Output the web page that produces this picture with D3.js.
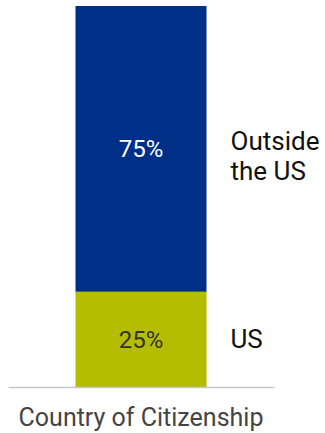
<!DOCTYPE html>
<html>
<head>
<meta charset="utf-8">
<script src="https://cdn.jsdelivr.net/npm/d3@7"></script>
<style>
  body { margin: 0; background: #fff; overflow: hidden; }
  text { font-family: Roboto, "Noto Sans", sans-serif; }
</style>
</head>
<body>
<script>
// data
var categories = ["Country of Citizenship"];
var segments = ["US", "Outside the US"];
var values = [0.25, 0.75];
var segLabels = [["US"], ["Outside", "the US"]];
var colors = ["#b5bd00", "#002f87"];
var valueColors = ["#333333", "#ffffff"];

var width = 325, height = 433;

var svg = d3.select("body").append("svg")
    .attr("width", width)
    .attr("height", height);

var x = d3.scaleBand()
    .domain(categories)
    .range([8, 274])
    .padding(0.34);

var y = d3.scaleLinear()
    .domain([0, 1])
    .range([387, 6]);

// stack the segments
var stacked = [];
var acc = 0;
values.forEach(function(v, i) {
  stacked.push({ key: segments[i], y0: acc, y1: acc + v, value: v, i: i });
  acc += v;
});

var g = svg.append("g");

g.selectAll("rect.seg")
    .data(stacked)
    .enter().append("rect")
    .attr("class", "seg")
    .attr("x", x(categories[0]))
    .attr("width", x.bandwidth())
    .attr("y", function(d) { return y(d.y1); })
    .attr("height", function(d) { return y(d.y0) - y(d.y1); })
    .attr("fill", function(d) { return colors[d.i]; });

// value labels inside the bar
g.selectAll("text.val")
    .data(stacked)
    .enter().append("text")
    .attr("class", "val")
    .attr("x", x(categories[0]) + x.bandwidth() / 2)
    .attr("y", function(d) { return (y(d.y0) + y(d.y1)) / 2 + 8.5; })
    .attr("text-anchor", "middle")
    .attr("font-size", 24)
    .attr("fill", function(d) { return valueColors[d.i]; })
    .text(function(d) { return Math.round(d.value * 100) + "%"; });

// segment names on the right
var names = g.selectAll("text.name")
    .data(stacked)
    .enter().append("text")
    .attr("class", "name")
    .attr("x", x(categories[0]) + x.bandwidth() + 24)
    .attr("y", function(d) {
      var n = segLabels[d.i].length;
      return (y(d.y0) + y(d.y1)) / 2 + 9 - (n - 1) * 29.5 / 2 + (n > 1 ? 7 : 0);
    })
    .attr("font-size", 26)
    .attr("fill", "#111");

names.selectAll("tspan")
    .data(function(d) { return segLabels[d.i]; })
    .enter().append("tspan")
    .attr("x", x(categories[0]) + x.bandwidth() + 24)
    .attr("dy", function(d, j) { return j === 0 ? 0 : 29.5; })
    .text(function(d) { return d; });

// baseline axis
var axis = svg.append("g")
    .attr("transform", "translate(0," + y(0) + ")")
    .call(d3.axisBottom(x).tickSize(0).tickPadding(21));

axis.select(".domain")
    .attr("stroke", "#c8c8c8")
    .attr("stroke-width", 1.5);

axis.selectAll(".tick text")
    .attr("font-family", "Roboto, sans-serif")
    .attr("font-size", 25)
    .attr("fill", "#444");
</script>
</body>
</html>
